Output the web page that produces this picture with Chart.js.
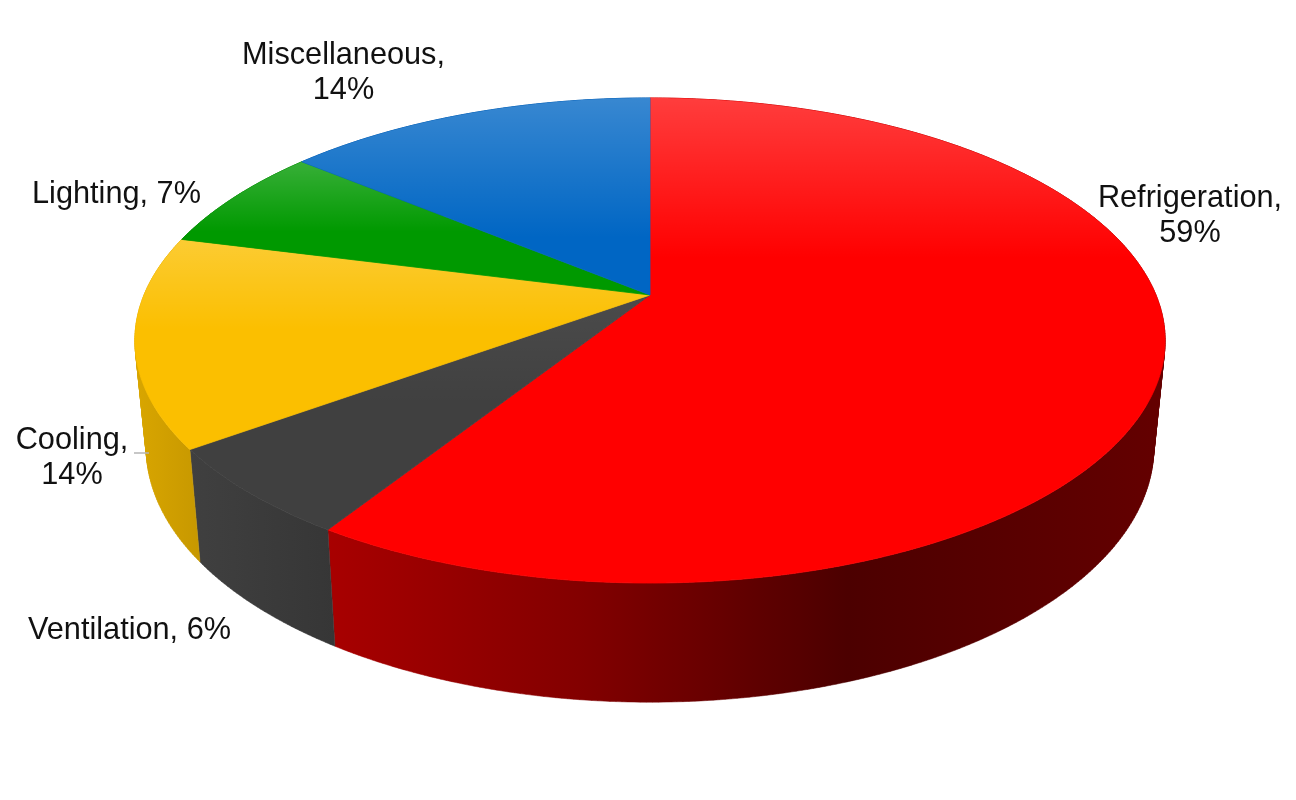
<!DOCTYPE html>
<html>
<head>
<meta charset="utf-8">
<title>Energy use</title>
<script src="https://cdn.jsdelivr.net/npm/chart.js@4"></script>
<style>
  body { margin: 0; background: #fff; }
  canvas { display: block; }
</style>
</head>
<body>
<canvas id="energyChart" width="1296" height="800"></canvas>
<script>
var categories = ['Refrigeration', 'Ventilation', 'Cooling', 'Lighting', 'Miscellaneous'];
var shares = [59, 6, 14, 7, 14];

var topColors = ['#ff0000', '#404040', '#fbbf00', '#009900', '#0066c4'];
var wallColors = [
    [[0, '#a80000'], [0.3, '#830000'], [0.62, '#4c0000'], [1, '#640000']],
    [[0, '#404040'], [1, '#363636']],
    [[0, '#d9a600'], [1, '#c79800']],
    [[0, '#007000'], [1, '#007000']],
    [[0, '#004a90'], [1, '#004a90']]
];
// highlight on the top face: strength at the slice's upper edge, and how far down it fades
var shineStrength = [0.24, 0.06, 0.2, 0.22, 0.22];
var shineDepth = [160, 110, 90, 70, 140];

// where each label goes: centre x, first baseline, and whether the value wraps
var labelSpots = [
    { x: 1190, y: 207, wrap: true },
    { x: 129.5, y: 639, wrap: false },
    { x: 72, y: 449, wrap: true },
    { x: 116.5, y: 203, wrap: false },
    { x: 343.5, y: 64, wrap: true }
];

// the pie is tilted with some perspective, so its rim is a projected circle
var tilt = { cx: 650, cy: 295, a: 506, b: 234, k: 0.1876 };
var base = { sx: 0.978, sy: 1.05, dy: 90 };

function rimPoint(angle) {
    var w = 1 - tilt.k * Math.sin(angle);
    return {
        x: tilt.cx + tilt.a * Math.cos(angle) / w,
        y: tilt.cy + tilt.b * Math.sin(angle) / w
    };
}

function basePoint(angle) {
    var p = rimPoint(angle);
    return {
        x: tilt.cx + base.sx * (p.x - tilt.cx),
        y: base.sy * p.y + base.dy
    };
}

function arcAngles(start, end) {
    var steps = Math.max(2, Math.ceil((end - start) / 0.01));
    var angles = [];
    for (var i = 0; i <= steps; i++) {
        angles.push(start + (end - start) * i / steps);
    }
    return angles;
}

function addPolygon(ctx, pts) {
    pts.forEach(function (p, i) {
        if (i === 0) ctx.moveTo(p.x, p.y);
        else ctx.lineTo(p.x, p.y);
    });
    ctx.closePath();
}

function signedArea(pts) {
    var sum = 0;
    pts.forEach(function (p, i) {
        var q = pts[(i + 1) % pts.length];
        sum += p.x * q.y - q.x * p.y;
    });
    return sum;
}

class TiltedArc extends Chart.ArcElement {
    static id = 'tiltedArc';

    drawWall(ctx, stops) {
        var angles = arcAngles(this.startAngle, this.endAngle);
        var minX = Infinity, maxX = -Infinity;
        ctx.beginPath();
        // one quad per step, all wound the same way so they fill as a union
        for (var i = 0; i < angles.length - 1; i++) {
            var quad = [rimPoint(angles[i]), rimPoint(angles[i + 1]), basePoint(angles[i + 1]), basePoint(angles[i])];
            if (signedArea(quad) < 0) quad.reverse();
            addPolygon(ctx, quad);
            quad.forEach(function (p) {
                minX = Math.min(minX, p.x);
                maxX = Math.max(maxX, p.x);
            });
        }
        var grad = ctx.createLinearGradient(minX, 0, maxX, 0);
        stops.forEach(function (s) { grad.addColorStop(s[0], s[1]); });
        ctx.fillStyle = grad;
        ctx.strokeStyle = grad;
        ctx.lineWidth = 0.5;
        ctx.fill();
        ctx.stroke();
    }

    draw(ctx) {
        var i = this.$context.dataIndex;
        var pts = [{ x: tilt.cx, y: tilt.cy }].concat(arcAngles(this.startAngle, this.endAngle).map(rimPoint));
        var minY = Math.min.apply(null, pts.map(function (p) { return p.y; }));
        ctx.save();
        ctx.beginPath();
        addPolygon(ctx, pts);
        ctx.fillStyle = this.options.backgroundColor;
        ctx.strokeStyle = this.options.backgroundColor;
        ctx.lineWidth = 0.8;
        ctx.fill();
        ctx.stroke();
        var shine = ctx.createLinearGradient(0, minY, 0, minY + shineDepth[i]);
        shine.addColorStop(0, 'rgba(255,255,255,' + shineStrength[i] + ')');
        shine.addColorStop(1, 'rgba(255,255,255,0)');
        ctx.fillStyle = shine;
        ctx.fill();
        ctx.restore();
    }
}

class TiltedPie extends Chart.PieController {
    static id = 'tiltedPie';
    static defaults = { dataElementType: 'tiltedArc' };
}

Chart.register(TiltedArc, TiltedPie);

var wallsPlugin = {
    id: 'walls',
    beforeDatasetsDraw: function (chart) {
        chart.getDatasetMeta(0).data.forEach(function (arc, i) {
            arc.drawWall(chart.ctx, wallColors[i]);
        });
    }
};

var labelsPlugin = {
    id: 'sliceLabels',
    afterDatasetsDraw: function (chart) {
        var ctx = chart.ctx;
        ctx.save();
        ctx.strokeStyle = '#b4b4b4';
        ctx.lineWidth = 1.5;
        ctx.beginPath();
        ctx.moveTo(134, 453);
        ctx.lineTo(149, 453);
        ctx.stroke();

        ctx.fillStyle = '#111';
        ctx.font = '30.7px "Liberation Sans"';
        ctx.textAlign = 'center';
        categories.forEach(function (name, i) {
            var spot = labelSpots[i];
            if (spot.wrap) {
                ctx.fillText(name + ',', spot.x, spot.y);
                ctx.fillText(shares[i] + '%', spot.x, spot.y + 34.5);
            } else {
                ctx.fillText(name + ', ' + shares[i] + '%', spot.x, spot.y);
            }
        });
        ctx.restore();
    }
};

new Chart(document.getElementById('energyChart').getContext('2d'), {
    type: 'tiltedPie',
    data: {
        labels: categories,
        datasets: [{
            data: shares,
            backgroundColor: topColors,
            borderWidth: 0
        }]
    },
    options: {
        responsive: false,
        animation: false,
        plugins: {
            legend: { display: false },
            tooltip: { enabled: false }
        }
    },
    plugins: [wallsPlugin, labelsPlugin]
});
</script>
</body>
</html>
